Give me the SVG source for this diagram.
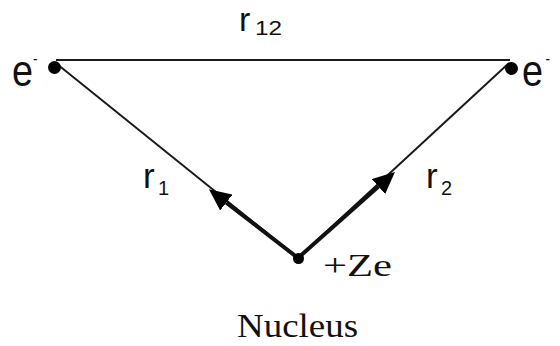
<svg xmlns="http://www.w3.org/2000/svg" width="560" height="346" viewBox="0 0 560 346">
<style>
  .sans { font-family: "Liberation Sans", Arial, sans-serif; fill: #111; }
  .serif { font-family: "Liberation Serif", "Times New Roman", serif; fill: #111; }
  .thin { stroke: #1a1a1a; stroke-width: 2; fill: none; }
  .thick { stroke: #111; stroke-width: 4; fill: none; marker-end: url(#ah); }
  .dot { fill: #000; }
  .sub { font-size: 20px; }
</style>
<defs>
  <marker id="ah" markerUnits="userSpaceOnUse" viewBox="0 0 22 20" markerWidth="22" markerHeight="20" refX="0" refY="10" orient="auto">
    <path d="M0,0 L22,10 L0,20 Z" fill="#000"/>
  </marker>
</defs>
<rect width="560" height="346" fill="#fff"/>
<g id="connectors">
  <line class="thin" x1="56" y1="60" x2="510" y2="60" stroke-width="2.5"/>
  <line class="thin" x1="57" y1="64" x2="298" y2="258"/>
  <line class="thin" x1="509" y1="63" x2="298" y2="258"/>
  <line class="thick" x1="298" y1="258" x2="226.3" y2="202.6"/>
  <line class="thick" x1="298" y1="258" x2="378.5" y2="186.6"/>
  <text class="sans" x="239" y="31" font-size="34">r<tspan class="sub" x="255" y="35" textLength="27" lengthAdjust="spacingAndGlyphs">12</tspan></text>
  <text class="sans" x="143" y="188" font-size="35">r<tspan class="sub" x="158" y="195">1</tspan></text>
  <text class="sans" x="426" y="188" font-size="35">r<tspan class="sub" x="441" y="195">2</tspan></text>
</g>
<g id="electron1">
  <circle class="dot" cx="54.5" cy="67.5" r="6.5"/>
  <text class="sans" transform="translate(12,86) scale(0.86,1)" font-size="44">e<tspan font-size="16" dy="-22">-</tspan></text>
</g>
<g id="electron2">
  <circle class="dot" cx="511.5" cy="68.5" r="6.5"/>
  <text class="sans" transform="translate(522,86) scale(0.86,1)" font-size="44">e<tspan font-size="16" dx="3" dy="-22">-</tspan></text>
</g>
<g id="nucleus">
  <circle class="dot" cx="298.5" cy="258.5" r="5.5"/>
  <text class="serif" x="323" y="276" font-size="31" textLength="69" lengthAdjust="spacingAndGlyphs">+Ze</text>
  <text class="serif" x="237" y="337" font-size="33" textLength="121" lengthAdjust="spacingAndGlyphs">Nucleus</text>
</g>
</svg>
